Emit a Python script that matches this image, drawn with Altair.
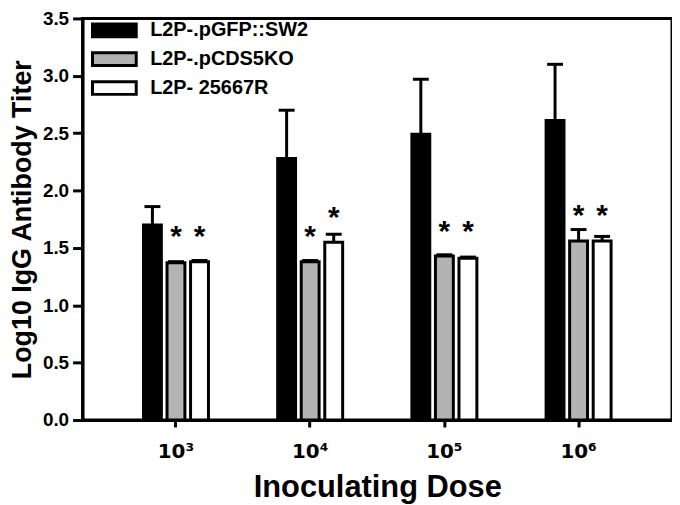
import altair as alt
import pandas as pd

doses = ["10³", "10⁴", "10⁵", "10⁶"]
strains = ["L2P-.pGFP::SW2", "L2P-.pCDS5KO", "L2P- 25667R"]
colors = ["black", "#b3b3b3", "white"]

mean_sw2 = [1.70, 2.28, 2.49, 2.61]
err_sw2 = [0.16, 0.42, 0.48, 0.49]
mean_cds = [1.37, 1.38, 1.43, 1.56]
err_cds = [0.01, 0.01, 0.01, 0.10]
mean_r = [1.38, 1.55, 1.41, 1.56]
err_r = [0.01, 0.07, 0.01, 0.04]

star_cds = [1.64, 1.64, 1.68, 1.82]
star_r = [1.64, 1.80, 1.68, 1.82]

rows = []
for s, ms, es in zip(strains, [mean_sw2, mean_cds, mean_r], [err_sw2, err_cds, err_r]):
    for d, m, e in zip(doses, ms, es):
        rows.append({"dose": d, "strain": s, "mean": m, "hi": m + e})
df = pd.DataFrame(rows)

srows = []
for s, ys in zip(strains[1:], [star_cds, star_r]):
    for d, y in zip(doses, ys):
        srows.append({"dose": d, "strain": s, "star": y})
sdf = pd.DataFrame(srows)

FONT = "Liberation Sans"

x_enc = alt.X(
    "dose:N", sort=doses,
    scale=alt.Scale(paddingInner=0.4, paddingOuter=0.396),
    axis=alt.Axis(title="Inoculating Dose", labelAngle=0, labelFontSize=20,
                  labelFont="DejaVu Sans", labelFontWeight="bold",
                  labelColor="black", labelPadding=15,
                  tickSize=7, tickWidth=3, tickColor="black",
                  domainColor="black", domainWidth=3,
                  titleFontSize=31, titleFontWeight="bold", titleColor="black",
                  titlePadding=11),
)
xo_enc = alt.XOffset("strain:N", sort=strains,
                     scale=alt.Scale(paddingInner=0.24, paddingOuter=0.33))

y_enc = alt.Y(
    "mean:Q",
    scale=alt.Scale(domain=[0, 3.5], nice=False, zero=True),
    axis=alt.Axis(title="Log10 IgG Antibody Titer",
                  values=[0, 0.5, 1.0, 1.5, 2.0, 2.5, 3.0, 3.5], format=".1f",
                  labelFontSize=19, labelFontWeight="bold", labelColor="black",
                  labelPadding=4, tickSize=10, tickWidth=3, tickColor="black",
                  domainColor="black", domainWidth=3, grid=False,
                  titleFontSize=27, titleFontWeight="bold", titleColor="black",
                  titlePadding=6),
)

fill_enc = alt.Fill(
    "strain:N", sort=strains,
    scale=alt.Scale(domain=strains, range=colors),
    legend=alt.Legend(
        title=None, orient="none", legendX=22, legendY=2,
        symbolType="M-2.75,-0.8L2.75,-0.8L2.75,0.8L-2.75,0.8Z",
        symbolSize=256, symbolStrokeColor="black", symbolStrokeWidth=3,
        symbolOpacity=1, labelFontSize=20, labelFontWeight="bold",
        labelColor="black", labelOffset=26, rowPadding=3, padding=0,
    ),
)

base = alt.Chart(df)

bars = base.mark_bar(stroke="black", strokeWidth=3, opacity=1).encode(
    x=x_enc, xOffset=xo_enc, y=y_enc, fill=fill_enc
)

err = base.mark_rule(color="black", strokeWidth=3).encode(
    x=x_enc, xOffset=xo_enc, y="mean:Q", y2="hi:Q"
)

caps = base.mark_tick(color="black", thickness=3, size=16, opacity=1).encode(
    x=x_enc, xOffset=xo_enc, y="hi:Q"
)

stars = alt.Chart(sdf).mark_text(
    text="*", font=FONT, fontSize=30, fontWeight="bold", color="black",
    baseline="middle", dy=5
).encode(x=x_enc, xOffset=xo_enc, y="star:Q")

chart = alt.layer(bars, err, caps, stars).properties(
    width=593, height=404,
    padding={"left": 0, "top": 0, "right": 0, "bottom": 0},
).configure(font=FONT).configure_view(stroke="black", strokeWidth=3)

chart.save("out.html", embed_options={"renderer": "svg", "actions": False})
